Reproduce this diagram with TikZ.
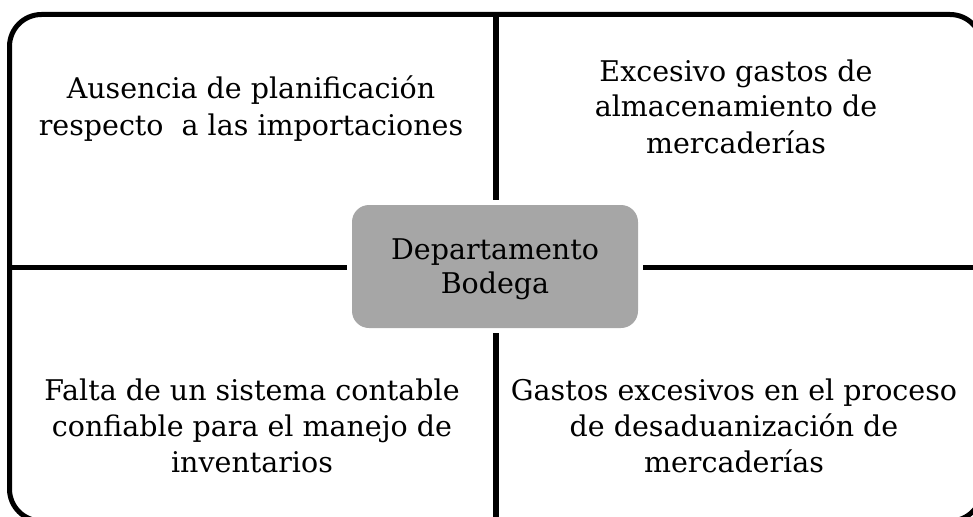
\documentclass[tikz,border=0pt]{standalone}
\usepackage{fontspec}
\setmainfont{DejaVu Serif}
\begin{document}
\begin{tikzpicture}[x=1pt,y=-1pt,
  frame/.style={draw=black,line width=5pt,rounded corners=32pt},
  divider/.style={draw=black,line width=5pt},
  vdivider/.style={draw=black,line width=6pt},
  centerbox/.style={fill={rgb,255:red,166;green,166;blue,166},rounded corners=17pt,minimum width=286pt,minimum height=123pt,inner sep=0pt},
  quad/.style={align=center,anchor=base,font=\fontsize{28.5}{36}\selectfont,inner sep=0pt},
]
\useasboundingbox (0,0) rectangle (973,516);
\draw[frame] (9.5,14.5) rectangle (982,521);
\node[centerbox] (c) at (495,266.5) {};
\node[align=center,font=\fontsize{28.5}{34}\selectfont,inner sep=0pt,anchor=base] (ct) at (495,293) {Departamento\\Bodega};
\coordinate (top) at (495.5,14.5);
\coordinate (bot) at (495.5,521);
\coordinate (lft) at (9.5,267);
\coordinate (rgt) at (982,267);
\coordinate (ctop) at (495.5,200);
\coordinate (cbot) at (495.5,333);
\coordinate (cl) at (347,267);
\coordinate (cr) at (643,267);
\draw[vdivider] (top) -- (ctop);
\draw[vdivider] (cbot) -- (bot);
\draw[divider] (lft) -- (cl);
\draw[divider] (cr) -- (rgt);
\node[quad] (tl) at (251,135) {Ausencia de planificación\\respecto\ \ a las importaciones};
\node[quad] (tr) at (736,153) {Excesivo gastos de\\almacenamiento de\\mercaderías};
\node[quad] (bl) at (252,472) {Falta de un sistema contable\\confiable para el manejo de\\inventarios};
\node[quad] (br) at (734,472) {Gastos excesivos en el proceso\\de desaduanización de\\mercaderías};
\end{tikzpicture}
\end{document}
